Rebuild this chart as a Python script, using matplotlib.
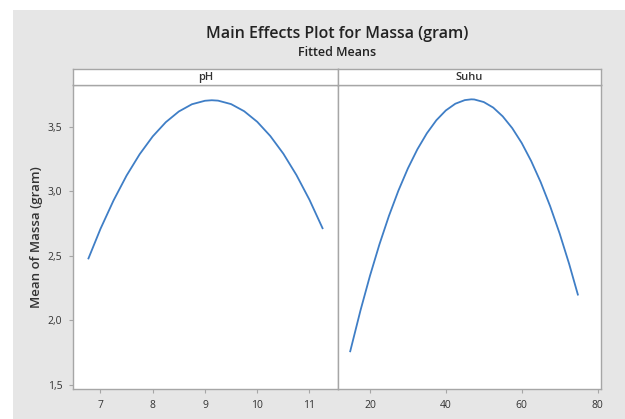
import matplotlib.pyplot as plt
from matplotlib.patches import Rectangle

# values
ph_x = [6.77, 7.0, 7.25, 7.5, 7.75, 8.0, 8.25, 8.5, 8.75, 9.0, 9.13, 9.25,
        9.5, 9.75, 10.0, 10.25, 10.5, 10.75, 11.0, 11.25]
ph_y = [2.48, 2.709, 2.929, 3.122, 3.287, 3.425, 3.535, 3.618, 3.674, 3.701, 3.705, 3.702,
        3.675, 3.620, 3.538, 3.428, 3.291, 3.126, 2.934, 2.714]

suhu_x = [14.8, 17.5, 20, 22.5, 25, 27.5, 30, 32.5, 35, 37.5, 40, 42.5, 45, 46.7,
          47.5, 50, 52.5, 55, 57.5, 60, 62.5, 65, 67.5, 70, 72.5, 74.8]
suhu_y = [1.761, 2.077, 2.345, 2.589, 2.809, 3.005, 3.177, 3.325, 3.449, 3.550, 3.626, 3.678, 3.706, 3.712,
          3.711, 3.691, 3.648, 3.580, 3.489, 3.374, 3.234, 3.071, 2.884, 2.673, 2.438, 2.200]

y_ticks = [1.5, 2.0, 2.5, 3.0, 3.5]
y_labels = ['1,5', '2,0', '2,5', '3,0', '3,5']
ph_ticks = [7, 8, 9, 10, 11]
suhu_ticks = [20, 40, 60, 80]
panels = ['pH', 'Suhu']

plt.rcParams['font.family'] = ['Open Sans', 'DejaVu Sans']

W, H = 625, 419
fig = plt.figure(figsize=(W / 100, H / 100), dpi=100)
fig.patch.set_facecolor('white')
fig.patches.append(Rectangle((12.7 / W, 0), 1, (H - 10) / H, transform=fig.transFigure,
                             facecolor='#e6e6e6', edgecolor='none', zorder=-10))

edge = '#a6a6a6'
txt = '#333333'
line_c = '#3f7ec6'

def px_box(x0, x1, y0, y1):
    return [x0 / W, 1 - y1 / H, (x1 - x0) / W, (y1 - y0) / H]

ax1 = fig.add_axes(px_box(73.3, 337.7, 85, 389))
ax2 = fig.add_axes(px_box(337.7, 601, 85, 389), sharey=ax1)

for ax, xs, ys, xt, xl in [(ax1, ph_x, ph_y, ph_ticks, (6.48, 11.54)),
                           (ax2, suhu_x, suhu_y, suhu_ticks, (11.5, 80.9))]:
    ax.plot(xs, ys, color=line_c, lw=1.3)
    ax.set_xlim(*xl)
    ax.set_xticks(xt)
    ax.set_xticklabels([str(t) for t in xt])
    for s in ax.spines.values():
        s.set_color(edge)
        s.set_linewidth(1.0)
    ax.tick_params(colors=edge, labelcolor=txt, labelsize=7.5, length=3, width=0.8, pad=5)

ax1.set_ylim(1.469, 3.823)
ax1.set_yticks(y_ticks)
ax1.set_yticklabels(y_labels)
ax2.tick_params(axis='y', left=False, labelleft=False)
ax1.set_ylabel('Mean of Massa (gram)', fontsize=9.5, color=txt, labelpad=3,
               fontweight='semibold')

for name, (x0, x1) in zip(panels, [(73.3, 337.7), (337.7, 601)]):
    st = fig.add_axes(px_box(x0, x1, 69.3, 85))
    st.set_xticks([])
    st.set_yticks([])
    for s in st.spines.values():
        s.set_color(edge)
        s.set_linewidth(1.0)
    st.text(0.5, 0.5, name, ha='center', va='center', fontsize=8, color=txt,
            fontweight='semibold', transform=st.transAxes)

fig.text(337 / W, 1 - 34 / H, 'Main Effects Plot for Massa (gram)', ha='center', va='center',
         fontsize=11.5, fontweight='semibold', color='#222222')
fig.text(337 / W, 1 - 52.3 / H, 'Fitted Means', ha='center', va='center',
         fontsize=9, fontweight='semibold', color='#222222')

fig.savefig('out.png', dpi=100)
